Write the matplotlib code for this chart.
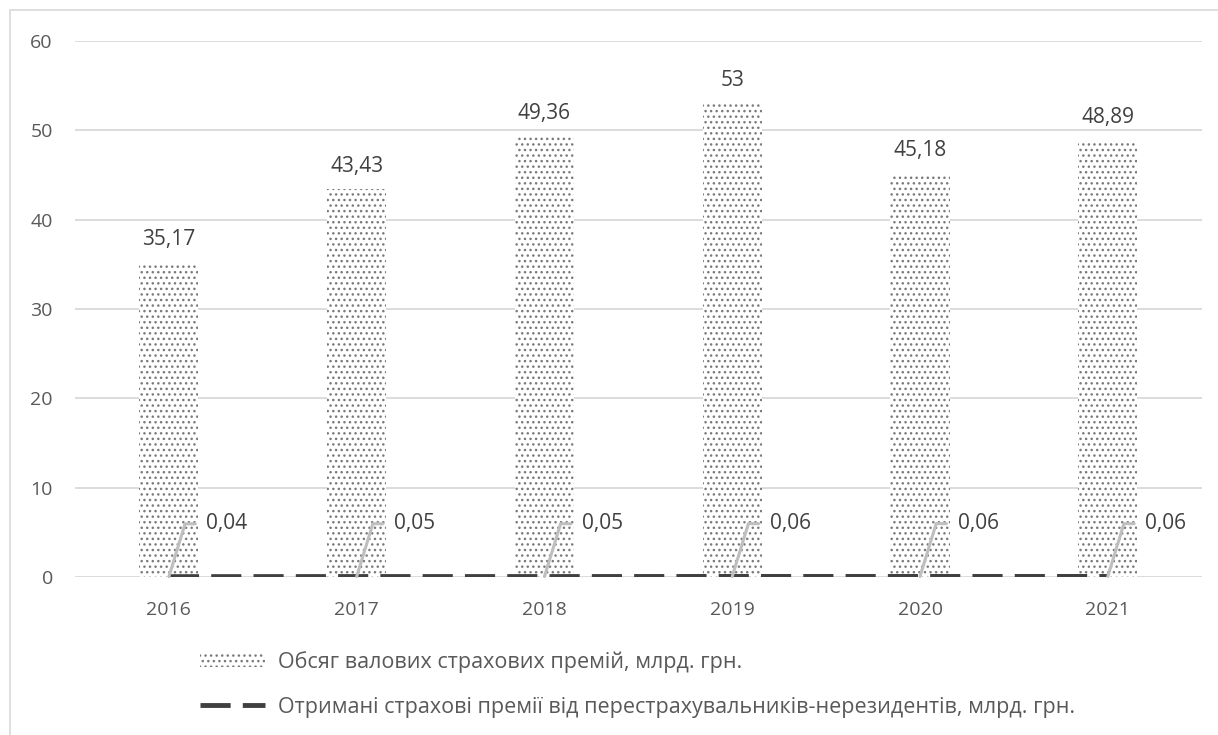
import matplotlib.pyplot as plt
from matplotlib.patches import Rectangle

years = ['2016', '2017', '2018', '2019', '2020', '2021']
gross_premiums = [35.17, 43.43, 49.36, 53, 45.18, 48.89]
nonresident_premiums = [0.04, 0.05, 0.05, 0.06, 0.06, 0.06]
bar_labels = ['35,17', '43,43', '49,36', '53', '45,18', '48,89']
line_labels = ['0,04', '0,05', '0,05', '0,06', '0,06', '0,06']

plt.rcParams['font.family'] = ['Open Sans', 'DejaVu Sans']
plt.rcParams['hatch.color'] = '#7a7a7a'
plt.rcParams['hatch.linewidth'] = 1.0
txt_color = '#595959'

fig = plt.figure(figsize=(12.18, 7.35), dpi=100)
ax = fig.add_axes([0.0616, 0.215, 0.925, 0.729])

# frame around the chart
fig.patches.append(Rectangle((10 / 1218, -0.1), 1.2, (725 / 735) + 0.1,
                             transform=fig.transFigure, fill=False,
                             edgecolor='#d9d9d9', linewidth=1.2))

x = list(range(len(years)))
bars = ax.bar(x, gross_premiums, width=0.315, color='white', edgecolor='#7a7a7a',
              linewidth=0, hatch='...', zorder=2,
              label='Обсяг валових страхових премій, млрд. грн.')
line, = ax.plot(x, nonresident_premiums, color='#404040', linewidth=3.5,
                dashes=(6.2, 2.5), solid_capstyle='butt', dash_capstyle='butt', zorder=3,
                label='Отримані страхові премії від перестрахувальників-нерезидентів, млрд. грн.')

for i, v in enumerate(gross_premiums):
    ax.annotate(bar_labels[i], (x[i], v), xytext=(0, 9), textcoords='offset points',
                ha='center', va='bottom', fontsize=15, color='#404040')

for i, v in enumerate(nonresident_premiums):
    ax.annotate(line_labels[i], (x[i], v), xytext=(27, 38), textcoords='offset points',
                ha='left', va='center', fontsize=15, color='#404040',
                arrowprops=dict(arrowstyle='-', color='#bfbfbf', linewidth=2.2,
                                shrinkA=6, shrinkB=0,
                                connectionstyle='angle,angleA=0,angleB=73,rad=0'),
                zorder=4)

ax.set_xlim(-0.5, 5.5)
ax.set_ylim(0, 60)
ax.set_yticks(range(0, 61, 10))
ax.set_xticks(x)
ax.set_xticklabels(years)
ax.grid(axis='y', color='#d9d9d9', linewidth=1.3, zorder=0)
ax.set_axisbelow(True)
for s in ax.spines.values():
    s.set_visible(False)
ax.tick_params(axis='both', length=0, labelsize=14, colors=txt_color)
ax.tick_params(axis='x', pad=17)
ax.tick_params(axis='y', pad=16)

leg = fig.legend(handles=[bars, line], loc='upper left',
                 bbox_to_anchor=(200 / 1218, 1 - 651 / 735), frameon=False,
                 fontsize=15.5, labelcolor=txt_color, handlelength=3.0,
                 handleheight=0.6, handletextpad=0.6, labelspacing=1.1,
                 borderaxespad=0, borderpad=0)

fig.savefig('out.png', dpi=100)
